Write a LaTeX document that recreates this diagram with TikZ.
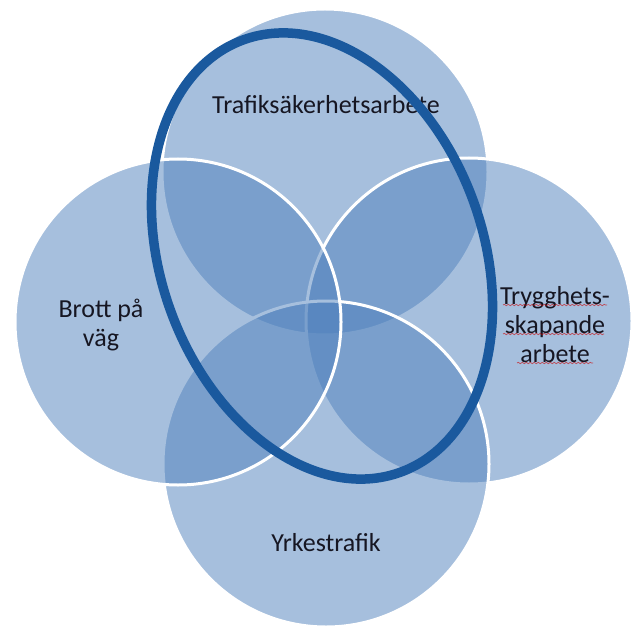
\documentclass[tikz,border=0pt]{standalone}
\usepackage{fontspec}
\setmainfont{Carlito}
\usetikzlibrary{decorations.pathmorphing}
\definecolor{vennblue}{RGB}{79,129,189}
\definecolor{ringblue}{RGB}{26,89,158}
\definecolor{txt}{RGB}{22,22,34}
\tikzset{
  venn/.style={fill=vennblue, fill opacity=0.5, draw=white, draw opacity=1, line width=3pt},
  lbl/.style={text=txt, align=center, font=\fontsize{26}{29}\selectfont, inner sep=0pt},
  ring/.style={draw=ringblue, line width=9.5pt},
  spell/.style={draw=red!80!black, line width=0.7pt, opacity=0.6, decorate, decoration={snake, amplitude=0.7pt, segment length=4pt}}
}
\begin{document}
\begin{tikzpicture}[x=1pt,y=1pt]
\useasboundingbox (0,0) rectangle (631,-636);
\fill[white] (0,0) rectangle (631,-636);
\coordinate (cT) at (325,-172);
\coordinate (cR) at (469,-321);
\coordinate (cB) at (326,-464);
\coordinate (cL) at (178,-322);
\draw[venn] (cT) circle[radius=163];
\draw[venn] (cR) circle[radius=163];
\draw[venn] (cB) circle[radius=163];
\draw[venn] (cL) circle[radius=163];
\node[lbl] (tT) at (326,-105) {Trafiksäkerhetsarbete};
\node[lbl] (tL) at (101,-325) {Brott på\\väg};
\node[lbl] (tR) at (555,-325) {Trygghets-\\skapande\\arbete};
\node[lbl] (tB) at (326,-543) {Yrkestrafik};
\draw[spell] (503,-305) -- (607,-305);
\draw[spell] (503,-334) -- (604,-334);
\draw[spell] (517,-363) -- (593,-363);
\draw[ring, rotate around={20:(322,-256)}] (322,-256) ellipse[x radius=161, y radius=230];
\end{tikzpicture}
\end{document}
